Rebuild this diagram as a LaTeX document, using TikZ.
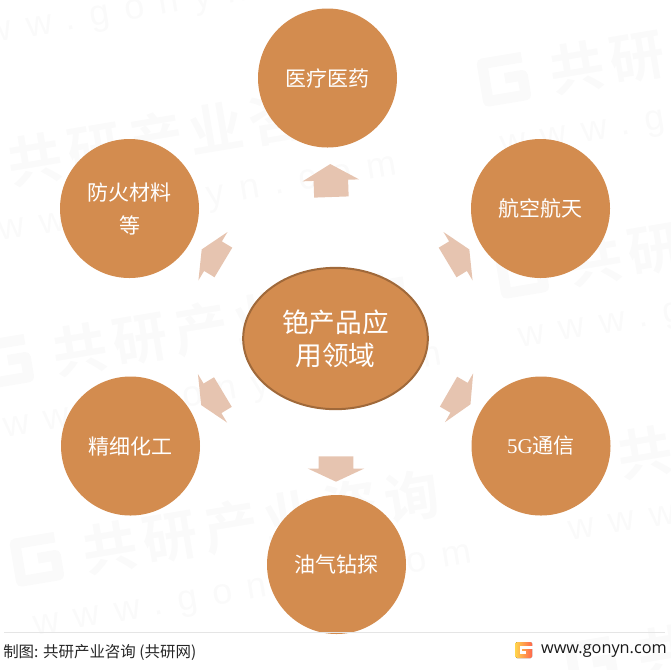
\documentclass[tikz,border=0pt]{standalone}
\usepackage{fontspec}
\usetikzlibrary{shapes.geometric, shapes.arrows}
\newfontfamily\cjk{Noto Sans CJK SC}
\newfontfamily\markcjk[LetterSpace=12]{Noto Sans CJK SC Bold}
\newfontfamily\markurl[LetterSpace=42]{Liberation Sans}
\newfontfamily\latinserif{Liberation Serif}
\newfontfamily\urlfont{Open Sans}
\definecolor{ochre}{HTML}{D38C4F}
\definecolor{ochreline}{HTML}{A0693A}
\definecolor{paleblock}{HTML}{E6C4B0}
\definecolor{markgrey}{HTML}{FAFAFA}
\tikzset{
    leaf/.style={circle, fill=ochre, text=white, minimum size=104.25pt, inner sep=0pt, align=center,
        font=\cjk\fontsize{15.75}{24.75}\selectfont},
    core/.style={ellipse, fill=ochre, draw=ochreline, line width=1.5pt, text=white, minimum width=138.5pt,
        minimum height=106pt, inner sep=0pt, align=center, font=\cjk\fontsize{20}{24.75}\selectfont},
    block/.style={single arrow, fill=paleblock, minimum height=19pt, inner xsep=0pt, inner ysep=12.75pt,
        single arrow head extend=8.25pt, single arrow head indent=0pt, single arrow tip angle=130},
    wmark/.pic={
        \node[transform shape, text=markgrey, font=\markcjk\fontsize{41}{41}\selectfont, anchor=west] (-cn) at (-27,0) {共研产业咨询};
        \node[transform shape, text=markgrey, font=\markurl\fontsize{27}{27}\selectfont, anchor=west] (-url) at (-88,-69) {www.gonyn.com};
        \draw[markgrey, line width=8pt, line join=round] (-48,19) -- (-88,19) -- (-88,-19) -- (-50,-19) -- (-50,1) -- (-68,1);
    },
}
\begin{document}
\begin{tikzpicture}[x=0.75pt, y=0.75pt]
            \useasboundingbox (0,-669) rectangle (671,0);
            \begin{scope}
                \clip (0,-669) rectangle (671,0);
                \pic[rotate=9.5] (wa) at (17,37) {wmark};
                \pic[rotate=9.5] (wb) at (30,-160) {wmark};
                \pic[rotate=9.5] (wc) at (75,-350) {wmark};
                \pic[rotate=9.5] (wd) at (105,-548) {wmark};
                \pic[rotate=9.5] (we) at (572,-68) {wmark};
                \pic[rotate=9.5] (wf) at (590,-260) {wmark};
                \pic[rotate=9.5] (wg) at (640,-453) {wmark};
                \pic[rotate=9.5] (wh) at (660,-652) {wmark};
            \end{scope}
            \node[core] (cesium) at (335.5,-338.5) {铯产品应\\用领域};
            \node[leaf] (medicine) at (327.5,-78) {医疗医药};
            \node[leaf] (aerospace) at (540.5,-208.5) {航空航天};
            \node[leaf] (telecom) at (541,-446) {{\latinserif 5G}通信};
            \node[leaf] (oilgas) at (336.5,-564.5) {油气钻探};
            \node[leaf] (chemical) at (130.5,-446) {精细化工};
            \node[leaf] (fireproof) at (129.5,-208.5) {\rule{0pt}{14pt}防火材料\\等};
            \node[block, rotate=92, minimum height=24.75pt, single arrow tip angle=120] (toup) at (331,-185.5) {};
            \node[block, rotate=31] (toaero) at (455,-258) {};
            \node[block, rotate=330] (totele) at (456,-396) {};
            \node[block, rotate=270] (todown) at (336,-465) {};
            \node[block, rotate=211] (tochem) at (215.5,-396.5) {};
            \node[block, rotate=149] (tofire) at (216,-258) {};
            \coordinate (ruleleft) at (4,-632);
            \coordinate (ruleright) at (665,-632);
            \draw[gray!20, line width=0.6pt] (ruleleft) -- (ruleright);
            \node[anchor=west, inner sep=0pt, text=black!85, font=\cjk\fontsize{11.6}{13}\selectfont] (source) at (3,-652) {制图: 共研产业咨询 (共研网)};
            \node[anchor=east, inner sep=0pt, text=black!90, font=\urlfont\fontsize{12.2}{14}\selectfont] (website) at (667,-651) {www.gonyn.com};
            \fill[rounded corners=1pt, left color=orange!50!yellow!70, right color=red!70!orange!70] (515.5,-658) rectangle (532,-642);
            \draw[white, line width=2pt] (533,-647.5) -- (521,-647.5) -- (521,-652.5) -- (525.5,-652.5);
        \end{tikzpicture}
\end{document}
